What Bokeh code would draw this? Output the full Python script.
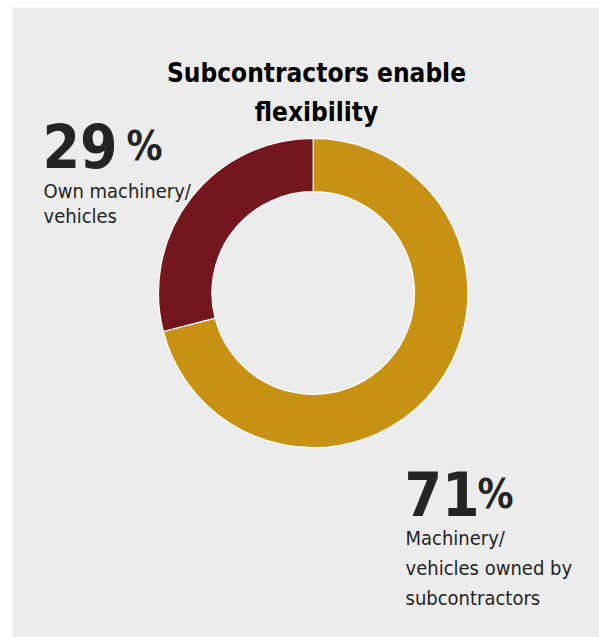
import math
from bokeh.plotting import figure
from bokeh.models import Range1d, BoxAnnotation
from bokeh.core.properties import value
from bokeh.embed import file_html
from bokeh.resources import INLINE

# ---- data ----
categories = ["Machinery/vehicles owned by subcontractors", "Own machinery/vehicles"]
shares = [71, 29]
colors = ["#C79213", "#74161D"]
title_lines = ["Subcontractors enable", "flexibility"]
left_label = ["Own machinery/", "vehicles"]
right_label = ["Machinery/", "vehicles owned by", "subcontractors"]

W, H = 599, 637
BG = "#ECECEC"
INK = "#242424"
HEAD = "'DejaVu Sans Condensed', 'Liberation Sans Narrow', Roboto, sans-serif"
BODY = "'DejaVu Sans Condensed', 'Liberation Sans Narrow', Roboto, sans-serif"

p = figure(width=W, height=H, output_backend="svg", toolbar_location=None,
           x_range=Range1d(0, W), y_range=Range1d(0, H), min_border=0)
p.axis.visible = False
p.grid.visible = False
p.outline_line_color = None
p.background_fill_color = "white"
p.border_fill_color = "white"
p.add_layout(BoxAnnotation(left=12, right=W, bottom=0, top=H - 7,
                           fill_color=BG, fill_alpha=1, line_color=None, level="underlay"))

def Y(y):
    return H - y

# donut: start at top, clockwise
cx, cy = 312.7, Y(292.5)
total = sum(shares)
start = math.pi / 2
starts, ends = [], []
for s in shares:
    e = start - 2 * math.pi * s / total
    starts.append(start)
    ends.append(e)
    start = e
p.annular_wedge(x=[cx] * len(shares), y=[cy] * len(shares), inner_radius=101.3, outer_radius=154.7,
                start_angle=starts, end_angle=ends, direction="clock",
                fill_color=colors, line_color="white", line_width=1.2)

# title
for i, t in enumerate(title_lines):
    p.text(x=[316], y=[Y(72.5 + i * 38.5)], text=[t], text_align="center", text_baseline="alphabetic",
           text_font=value(HEAD), text_font_style="bold", text_font_size="26px", text_color="#000000")

# big numbers
p.text(x=[42], y=[Y(145)], text=[f"{shares[1]}"], text_baseline="alphabetic",
       text_font=value(HEAD), text_font_style="bold", text_font_size="60px", text_color=INK)
p.text(x=[126], y=[Y(145)], text=["%"], text_baseline="alphabetic",
       text_font=value(HEAD), text_font_style="bold", text_font_size="40px", text_color=INK)
p.text(x=[404], y=[Y(493)], text=[f"{shares[0]}"], text_baseline="alphabetic",
       text_font=value(HEAD), text_font_style="bold", text_font_size="60px", text_color=INK)
p.text(x=[477], y=[Y(493)], text=["%"], text_baseline="alphabetic",
       text_font=value(HEAD), text_font_style="bold", text_font_size="40px", text_color=INK)

# labels
for i, t in enumerate(left_label):
    p.text(x=[43], y=[Y(190 + i * 25.5)], text=[t], text_baseline="alphabetic",
           text_font=value(BODY), text_font_size="20px", text_color=INK)
for i, t in enumerate(right_label):
    p.text(x=[405], y=[Y(537 + i * 30)], text=[t], text_baseline="alphabetic",
           text_font=value(BODY), text_font_size="20px", text_color=INK)

open("out.html", "w").write(file_html(p, INLINE))
